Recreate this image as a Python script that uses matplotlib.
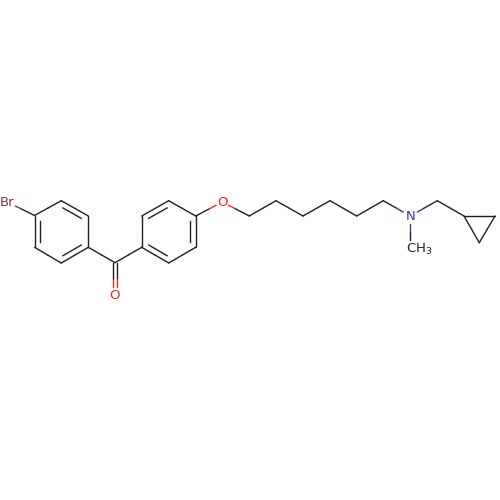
import matplotlib
matplotlib.use('Agg')
import matplotlib.pyplot as plt
import numpy as np

# atom positions (px, y down)
atom_x = [34.5, 61.3, 88.3, 88.3, 61.3, 34.5, 7.3, 115, 115,
          141.7, 168.7, 195.7, 195.7, 168.7, 141.7, 222.3,
          249.3, 276, 303, 330, 356.7, 383.3, 410.3, 410.3, 437.3,
          464, 495, 479.3]
atom_y = [215.5, 200.7, 216, 247.3, 263, 247.3, 202, 262.7, 294.7,
          247.3, 263, 247.3, 216, 200.7, 216, 202,
          216, 200.7, 216, 200.7, 216, 200.7, 216, 248, 200.7,
          216, 216, 242.7]
atom_label = {6: 'Br', 8: 'O', 15: 'O', 22: 'N', 23: 'CH$_3$'}
atom_color = {6: '#7a3b3b', 8: '#ff2020', 15: '#ff2020', 22: '#3838a8', 23: '#202020'}
label_gap = {6: 9, 8: 8, 15: 7, 22: 8, 23: 8}

single_bonds = [(0, 1), (2, 3), (4, 5), (0, 6), (3, 7), (7, 9),
                (10, 11), (12, 13), (14, 9), (12, 15), (15, 16),
                (16, 17), (17, 18), (18, 19), (19, 20), (20, 21), (21, 22),
                (22, 23), (22, 24), (24, 25), (25, 26), (26, 27), (27, 25)]
ring_double = [(1, 2), (3, 4), (5, 0), (9, 10), (11, 12), (13, 14)]
ring1 = [0, 1, 2, 3, 4, 5]
ring2 = [9, 10, 11, 12, 13, 14]

BLACK = '#202020'
LW = 1.0


def draw_bond(ax, a, b, offset=(0, 0)):
    p = np.array([atom_x[a], atom_y[a]]) + offset
    q = np.array([atom_x[b], atom_y[b]]) + offset
    mid = (p + q) / 2
    d = (q - p) / np.hypot(*(q - p))
    start = p + d * label_gap.get(a, 0)
    end = q - d * label_gap.get(b, 0)
    ax.plot([start[0], mid[0]], [start[1], mid[1]], color=atom_color.get(a, BLACK), lw=LW, solid_capstyle='round')
    ax.plot([mid[0], end[0]], [mid[1], end[1]], color=atom_color.get(b, BLACK), lw=LW, solid_capstyle='round')


fig = plt.figure(figsize=(5, 5), dpi=100)
ax = fig.add_axes([0, 0, 1, 1])

for a, b in single_bonds:
    draw_bond(ax, a, b)

# the inner line of the aromatic double bonds
for a, b in ring_double:
    draw_bond(ax, a, b)
    ring = ring1 if a in ring1 else ring2
    cx = np.mean([atom_x[i] for i in ring])
    cy = np.mean([atom_y[i] for i in ring])
    p = np.array([atom_x[a], atom_y[a]])
    q = np.array([atom_x[b], atom_y[b]])
    d = (q - p) / np.hypot(*(q - p))
    n = np.array([-d[1], d[0]])
    if np.dot(n, np.array([cx, cy]) - (p + q) / 2) < 0:
        n = -n
    s = p + n * 5.5 + d * 5
    e = q + n * 5.5 - d * 5
    ax.plot([s[0], e[0]], [s[1], e[1]], color=BLACK, lw=LW)

# carbonyl
draw_bond(ax, 7, 8, offset=(-1.8, 0))
draw_bond(ax, 7, 8, offset=(1.8, 0))

for i, text in atom_label.items():
    ax.text(atom_x[i] - 4 if i == 23 else atom_x[i], atom_y[i] + 1, text, color=atom_color[i], fontsize=9.5,
            ha='left' if i == 23 else 'center', va='center',
            family='DejaVu Sans')

ax.set_xlim(0, 500)
ax.set_ylim(500, 0)
ax.axis('off')
fig.savefig('out.png', dpi=100)
